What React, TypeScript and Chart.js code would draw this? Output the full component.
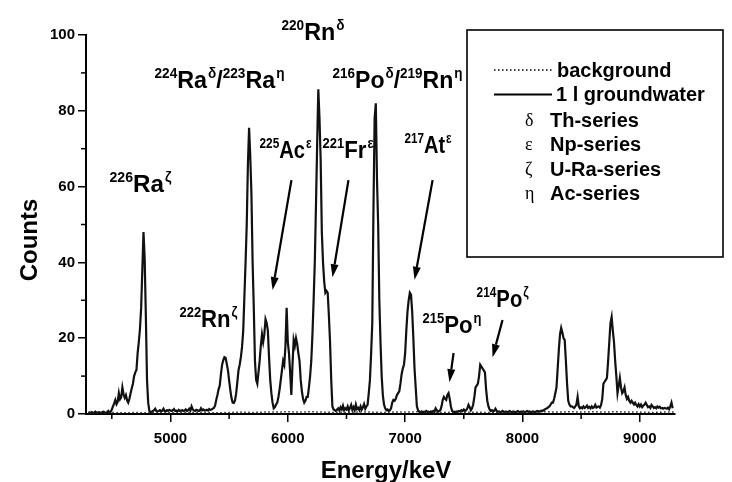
import React, { useEffect, useRef } from 'react';
import { Chart, registerables } from 'chart.js';

Chart.register(...registerables);

// ---------- data ----------
// spectrum channels: energy of first channel and channel width (keV)
const channelStartKeV = 4300;
const channelWidthKeV = 10;
// 1 l groundwater counts, one row per 100 keV
const groundwaterCounts = [
  0.3, 0.4, 0.3, 0.5, 0.3, 0.4, 0.6, 0.3, 0.4, 0.5, // 4300
  0.4, 0.3, 0.5, 0.6, 0.4, 0.3, 0.5, 0.8, 0.4, 0.6, // 4400
  1.2, 2.0, 2.8, 3.7, 2.6, 3.2, 5.5, 3.9, 4.4, 7.0, // 4500
  5.2, 4.3, 5.0, 3.6, 3.0, 4.0, 5.5, 6.8, 8.0, 10.0, // 4600
  11.0, 11.6, 16.0, 19.0, 22.5, 28.0, 38.0, 48.0, 41.0, 26.0, // 4700
  9.0, 3.0, 0.8, 0.5, 0.6, 0.8, 1.0, 1.4, 0.8, 0.7, // 4800
  0.8, 1.0, 0.7, 0.9, 1.4, 0.8, 0.7, 1.0, 0.8, 1.1, // 4900
  0.9, 0.8, 1.0, 1.3, 0.8, 0.9, 0.7, 1.1, 0.8, 0.9, // 5000
  1.0, 0.8, 0.9, 1.2, 0.8, 1.0, 1.4, 0.9, 2.0, 1.2, // 5100
  0.9, 0.8, 1.1, 1.0, 0.8, 0.9, 1.5, 1.0, 1.2, 0.9, // 5200
  1.0, 1.1, 0.9, 1.3, 1.1, 1.2, 1.4, 1.6, 2.2, 3.7, // 5300
  5.0, 6.5, 7.5, 10.5, 13.0, 14.2, 15.0, 14.8, 13.2, 11.5, // 5400
  8.8, 6.3, 4.2, 3.0, 2.9, 3.6, 5.5, 8.5, 11.6, 13.0, // 5500
  15.0, 17.7, 22.0, 31.0, 40.0, 50.0, 66.0, 75.5, 68.0, 58.0, // 5600
  40.0, 28.0, 14.0, 9.0, 8.0, 11.0, 14.0, 18.0, 21.0, 19.0, // 5700
  21.0, 25.0, 24.0, 22.0, 15.0, 9.0, 5.5, 3.0, 1.5, 1.8, // 5800
  2.5, 3.0, 4.5, 6.5, 9.0, 11.5, 14.0, 13.0, 18.0, 28.0, // 5900
  19.0, 16.0, 11.0, 5.0, 13.0, 19.5, 18.0, 20.0, 18.5, 16.0, // 6000
  14.0, 9.0, 6.0, 4.0, 3.0, 3.5, 4.5, 4.5, 7.0, 10.0, // 6100
  14.0, 21.0, 30.0, 40.0, 55.0, 71.0, 85.7, 78.0, 67.0, 48.0, // 6200
  40.0, 35.0, 32.0, 32.5, 32.0, 26.0, 19.0, 9.0, 2.0, 1.2, // 6300
  1.0, 0.8, 1.2, 1.5, 0.9, 1.8, 1.2, 2.2, 1.0, 1.5, // 6400
  1.2, 2.0, 0.9, 1.6, 2.4, 1.1, 1.8, 1.0, 2.5, 1.3, // 6500
  1.6, 1.0, 2.0, 1.2, 1.8, 2.6, 1.4, 2.0, 2.4, 5.5, // 6600
  9.0, 16.0, 24.0, 54.0, 78.0, 82.0, 62.0, 50.0, 30.0, 19.0, // 6700
  10.0, 5.0, 2.5, 1.5, 1.0, 1.2, 0.8, 1.0, 1.5, 3.0, // 6800
  3.7, 3.5, 4.0, 5.0, 5.5, 6.0, 8.0, 10.5, 12.0, 13.0, // 6900
  16.0, 22.0, 27.0, 30.0, 32.0, 31.5, 27.0, 20.0, 12.0, 7.0, // 7000
  2.0, 1.0, 0.6, 0.5, 0.7, 0.4, 0.6, 0.5, 0.8, 0.5, // 7100
  0.6, 0.4, 0.7, 0.5, 0.8, 0.6, 1.5, 1.0, 0.6, 0.8, // 7200
  1.0, 2.0, 3.7, 4.5, 4.0, 3.7, 5.0, 5.5, 4.0, 2.0, // 7300
  0.8, 0.5, 0.6, 0.5, 0.7, 0.6, 0.8, 0.7, 1.0, 0.8, // 7400
  1.2, 0.8, 1.0, 1.5, 2.4, 1.8, 1.0, 1.5, 2.5, 4.5, // 7500
  7.0, 7.5, 8.0, 10.0, 13.0, 12.5, 12.0, 11.5, 11.0, 6.5, // 7600
  3.5, 2.0, 1.2, 0.8, 1.0, 0.7, 0.9, 1.4, 0.8, 0.6, // 7700
  0.7, 0.5, 0.6, 0.8, 0.5, 0.6, 0.7, 0.5, 0.6, 0.8, // 7800
  0.6, 0.5, 0.7, 0.6, 0.5, 0.6, 0.8, 0.6, 0.5, 0.7, // 7900
  0.6, 0.7, 0.5, 0.6, 0.8, 0.6, 0.7, 0.5, 0.6, 0.7, // 8000
  0.6, 0.5, 0.7, 0.8, 0.6, 0.7, 0.9, 0.8, 1.0, 1.2, // 8100
  1.4, 1.5, 1.8, 2.0, 2.5, 3.0, 3.0, 4.0, 5.5, 7.0, // 8200
  12.0, 17.0, 21.0, 22.7, 21.5, 20.0, 19.5, 14.0, 8.0, 3.5, // 8300
  2.5, 2.0, 2.0, 1.8, 1.6, 2.0, 2.5, 4.5, 2.0, 1.5, // 8400
  1.8, 1.5, 2.0, 1.6, 1.8, 2.2, 1.6, 1.9, 1.5, 2.0, // 8500
  1.6, 1.8, 2.4, 1.7, 1.9, 2.0, 1.7, 2.4, 4.0, 8.0, // 8600
  8.5, 9.0, 9.5, 14.0, 19.0, 24.0, 25.6, 22.0, 19.0, 14.0, // 8700
  10.0, 5.5, 7.5, 9.5, 7.0, 5.5, 6.0, 7.0, 5.0, 4.0, // 8800
  4.5, 3.5, 3.0, 3.5, 3.0, 2.5, 3.0, 2.4, 2.0, 2.6, // 8900
  2.0, 2.5, 1.8, 2.2, 2.5, 3.0, 2.4, 1.8, 2.0, 1.6, // 9000
  2.4, 2.0, 1.6, 1.8, 1.5, 2.0, 1.7, 1.9, 1.5, 1.6, // 9100
  1.4, 1.6, 1.5, 1.4, 1.7, 1.3, 2.0, 3.0, 1.5, // 9200
];

// background measurement (coarser bins)
const backgroundStartKeV = 4300;
const backgroundStepKeV = 100;
const backgroundCounts = [
  0.3, 0.3, 0.4, 0.3, 0.4, 0.3, 0.4, 0.3, 0.4, 0.4,
  0.4, 0.3, 0.4, 0.5, 0.4, 0.5, 0.5, 0.6, 0.5, 0.6,
  0.5, 0.4, 0.4, 0.5, 0.5, 0.4, 0.5, 0.5, 0.6, 0.4,
  0.4, 0.5, 0.4, 0.5, 0.4, 0.4, 0.5, 0.4, 0.5, 0.6,
  0.5, 0.6, 0.5, 0.6, 0.5, 0.6, 0.5, 0.5, 0.4, 0.5,
  0.5,
];

const xMin = 4280;
const xMax = 9300;
const xTickValues = [5000, 6000, 7000, 8000, 9000];
const xMinorTickValues = [4500, 5500, 6500, 7500, 8500];
const yMin = 0;
const yMax = 100;
const yTickValues = [0, 20, 40, 60, 80, 100];
const yMinorTickValues = [10, 30, 50, 70, 90];

const xTitle = 'Energy/keV';
const yTitle = 'Counts';

// peak labels: [mass number, element, decay series]
const peakLabelTexts = [
  [['220', 'Rn', 'δ']],
  [['224', 'Ra', 'δ'], ['223', 'Ra', 'η']],
  [['216', 'Po', 'δ'], ['219', 'Rn', 'η']],
  [['225', 'Ac', 'ε']],
  [['221', 'Fr', 'ε']],
  [['217', 'At', 'ε']],
  [['226', 'Ra', 'ζ']],
  [['222', 'Rn', 'ζ']],
  [['215', 'Po', 'η']],
  [['214', 'Po', 'ζ']],
];

const legendLines = [
  { label: 'background', dotted: true },
  { label: '1 l groundwater', dotted: false },
];
const legendSeries = [
  ['δ', 'Th-series'],
  ['ε', 'Np-series'],
  ['ζ', 'U-Ra-series'],
  ['η', 'Ac-series'],
];

// ---------- layout of annotations (in axis units: keV, counts) ----------
// label left-baseline anchor and rendered width in px
const labelLayout = [
  { e: 5946, c: 98.7, w: 63 },
  { e: 4864, c: 86, w: 130 },
  { e: 6381, c: 86, w: 130 },
  { e: 5759, c: 67.5, w: 52 },
  { e: 6296, c: 67.5, w: 51 },
  { e: 6995, c: 68.9, w: 47 },
  { e: 4480, c: 58.6, w: 62 },
  { e: 5077, c: 23, w: 58 },
  { e: 7148, c: 21.4, w: 59 },
  { e: 7609, c: 28.2, w: 52 },
];
// arrows from label to peak: [keV, counts]
const arrowLayout = [
  { from: [6031, 61.7], to: [5870, 32.7] },
  { from: [6517, 61.7], to: [6381, 36.1] },
  { from: [7234, 61.7], to: [7080, 35.4] },
  { from: [7413, 16.1], to: [7378, 8.4] },
  { from: [7830, 24.8], to: [7745, 15.0] },
];

// ---------- drawing ----------
const SANS = "'Liberation Sans', Arial, Helvetica, sans-serif";
const SERIF = "'Liberation Serif', 'DejaVu Serif', serif";
const MAIN = `bold 24px ${SANS}`;
const SUP = `bold 14px ${SANS}`;
const SUP_RISE = 10;

function nuclideWidth(ctx: CanvasRenderingContext2D, groups: string[][]) {
  let w = 0;
  groups.forEach((g, i) => {
    ctx.font = MAIN;
    if (i > 0) w += ctx.measureText('/').width;
    w += ctx.measureText(g[1]).width;
    ctx.font = SUP;
    w += ctx.measureText(g[0]).width + ctx.measureText(g[2]).width + 1;
  });
  return w;
}

function drawNuclide(ctx: CanvasRenderingContext2D, groups: string[][], x: number, y: number, target: number) {
  const natural = nuclideWidth(ctx, groups);
  ctx.save();
  ctx.translate(x, y);
  ctx.scale(target / natural, 1);
  let cx = 0;
  groups.forEach((g, i) => {
    if (i > 0) {
      ctx.font = MAIN;
      ctx.fillText('/', cx, 0);
      cx += ctx.measureText('/').width;
    }
    const [mass, sym, series] = g;
    ctx.font = SUP;
    ctx.fillText(mass, cx, -SUP_RISE);
    cx += ctx.measureText(mass).width;
    ctx.font = MAIN;
    ctx.fillText(sym, cx, 0);
    cx += ctx.measureText(sym).width;
    ctx.font = SUP;
    ctx.fillText(series, cx + 1, -SUP_RISE);
    cx += ctx.measureText(series).width + 1;
  });
  ctx.restore();
}

function drawArrow(ctx: CanvasRenderingContext2D, x1: number, y1: number, x2: number, y2: number) {
  const ang = Math.atan2(y2 - y1, x2 - x1);
  const headLen = 13;
  const headHalf = 4;
  const bx = x2 - headLen * Math.cos(ang);
  const by = y2 - headLen * Math.sin(ang);
  ctx.beginPath();
  ctx.moveTo(x1, y1);
  ctx.lineTo(bx, by);
  ctx.lineWidth = 2.2;
  ctx.stroke();
  ctx.beginPath();
  ctx.moveTo(x2, y2);
  ctx.lineTo(bx + headHalf * Math.sin(ang), by - headHalf * Math.cos(ang));
  ctx.lineTo(bx - headHalf * Math.sin(ang), by + headHalf * Math.cos(ang));
  ctx.closePath();
  ctx.fill();
}

const overlayPlugin = {
  id: 'overlay',
  afterDraw(chart: any) {
    const ctx: CanvasRenderingContext2D = chart.ctx;
    const xs = chart.scales.x;
    const ys = chart.scales.y;
    const area = chart.chartArea;
    ctx.save();
    ctx.strokeStyle = '#000';
    ctx.fillStyle = '#000';

    // minor ticks
    ctx.lineWidth = 1.5;
    xMinorTickValues.forEach((v) => {
      const px = xs.getPixelForValue(v);
      ctx.beginPath();
      ctx.moveTo(px, area.bottom);
      ctx.lineTo(px, area.bottom + 5);
      ctx.stroke();
    });
    yMinorTickValues.forEach((v) => {
      const py = ys.getPixelForValue(v);
      ctx.beginPath();
      ctx.moveTo(area.left - 5, py);
      ctx.lineTo(area.left, py);
      ctx.stroke();
    });

    // axis titles
    ctx.font = `bold 24px ${SANS}`;
    ctx.textAlign = 'center';
    ctx.textBaseline = 'alphabetic';
    ctx.fillText(xTitle, 386, 478);
    ctx.save();
    ctx.translate(37, 240);
    ctx.rotate(-Math.PI / 2);
    ctx.fillText(yTitle, 0, 0);
    ctx.restore();

    // peak labels
    ctx.textAlign = 'left';
    peakLabelTexts.forEach((groups, i) => {
      const l = labelLayout[i];
      drawNuclide(ctx, groups, xs.getPixelForValue(l.e), ys.getPixelForValue(l.c), l.w);
    });

    // arrows
    arrowLayout.forEach((a) => {
      drawArrow(
        ctx,
        xs.getPixelForValue(a.from[0]), ys.getPixelForValue(a.from[1]),
        xs.getPixelForValue(a.to[0]), ys.getPixelForValue(a.to[1])
      );
    });

    // legend box
    ctx.fillStyle = '#fff';
    ctx.fillRect(467, 30, 256, 227);
    ctx.fillStyle = '#000';
    ctx.lineWidth = 1.6;
    ctx.strokeRect(467, 30, 256, 227);
    ctx.textBaseline = 'middle';
    legendLines.forEach((l, i) => {
      const yy = 70 + i * 24.5;
      ctx.beginPath();
      ctx.lineWidth = l.dotted ? 1.5 : 2;
      ctx.setLineDash(l.dotted ? [1.5, 2.5] : []);
      ctx.moveTo(494, yy);
      ctx.lineTo(552, yy);
      ctx.stroke();
      ctx.setLineDash([]);
      ctx.font = `bold 20px ${SANS}`;
      ctx.fillText(l.label, l.dotted ? 557 : 556, yy + 1);
    });
    legendSeries.forEach((s, i) => {
      const yy = 120 + i * 24.5;
      ctx.font = `18px ${SERIF}`;
      ctx.fillText(s[0], 525, yy + 1);
      ctx.font = `bold 20px ${SANS}`;
      ctx.fillText(s[1], 550, yy + 1);
    });

    ctx.restore();
  },
};

export default function App() {
  const canvasRef = useRef<HTMLCanvasElement | null>(null);

  useEffect(() => {
    const canvas = canvasRef.current;
    if (!canvas) return;
    const spectrum = groundwaterCounts.map((c, i) => ({ x: channelStartKeV + i * channelWidthKeV, y: c }));
    const bg = backgroundCounts.map((c, i) => ({ x: backgroundStartKeV + i * backgroundStepKeV, y: c }));
    const tickFont = { family: SANS, size: 15, weight: 'bold' as const };

    const chart = new Chart(canvas, {
      type: 'line',
      data: {
        datasets: [
          {
            label: 'background',
            data: bg,
            borderColor: '#222',
            borderWidth: 1.5,
            borderDash: [1.5, 2.5],
            pointRadius: 0,
            tension: 0,
            fill: false,
          },
          {
            label: '1 l groundwater',
            data: spectrum,
            borderColor: '#111',
            borderWidth: 2.2,
            pointRadius: 0,
            tension: 0,
            fill: false,
          },
        ],
      },
      options: {
        animation: false,
        responsive: false,
        devicePixelRatio: 1,
        layout: { padding: { left: 0, top: 35, right: 57, bottom: 0 } },
        plugins: { legend: { display: false }, tooltip: { enabled: false }, title: { display: false } },
        scales: {
          x: {
            type: 'linear',
            min: xMin,
            max: xMax,
            bounds: 'data',
            afterBuildTicks: (scale: any) => {
              scale.ticks = xTickValues.map((v) => ({ value: v }));
            },
            afterFit: (scale: any) => {
              scale.height = 68;
            },
            ticks: { font: tickFont, color: '#000', padding: 8, maxRotation: 0, autoSkip: false, callback: (v: any) => String(v) },
            grid: { display: true, drawOnChartArea: false, drawTicks: true, tickLength: 8, color: '#000', lineWidth: 1.5 },
            border: { display: true, color: '#000', width: 2 },
          },
          y: {
            type: 'linear',
            min: yMin,
            max: yMax,
            afterBuildTicks: (scale: any) => {
              scale.ticks = yTickValues.map((v) => ({ value: v }));
            },
            afterFit: (scale: any) => {
              scale.width = 86;
            },
            ticks: { font: tickFont, color: '#000', padding: 3, autoSkip: false, callback: (v: any) => String(v) },
            grid: { display: true, drawOnChartArea: false, drawTicks: true, tickLength: 8, color: '#000', lineWidth: 1.5 },
            border: { display: true, color: '#000', width: 2 },
          },
        },
      },
      plugins: [overlayPlugin],
    });
    return () => chart.destroy();
  }, []);

  return (
    <div style={{ position: 'fixed', left: 0, top: 0, width: 732, height: 482, background: '#fff' }}>
      <canvas ref={canvasRef} width={732} height={482} style={{ display: 'block' }} />
    </div>
  );
}
